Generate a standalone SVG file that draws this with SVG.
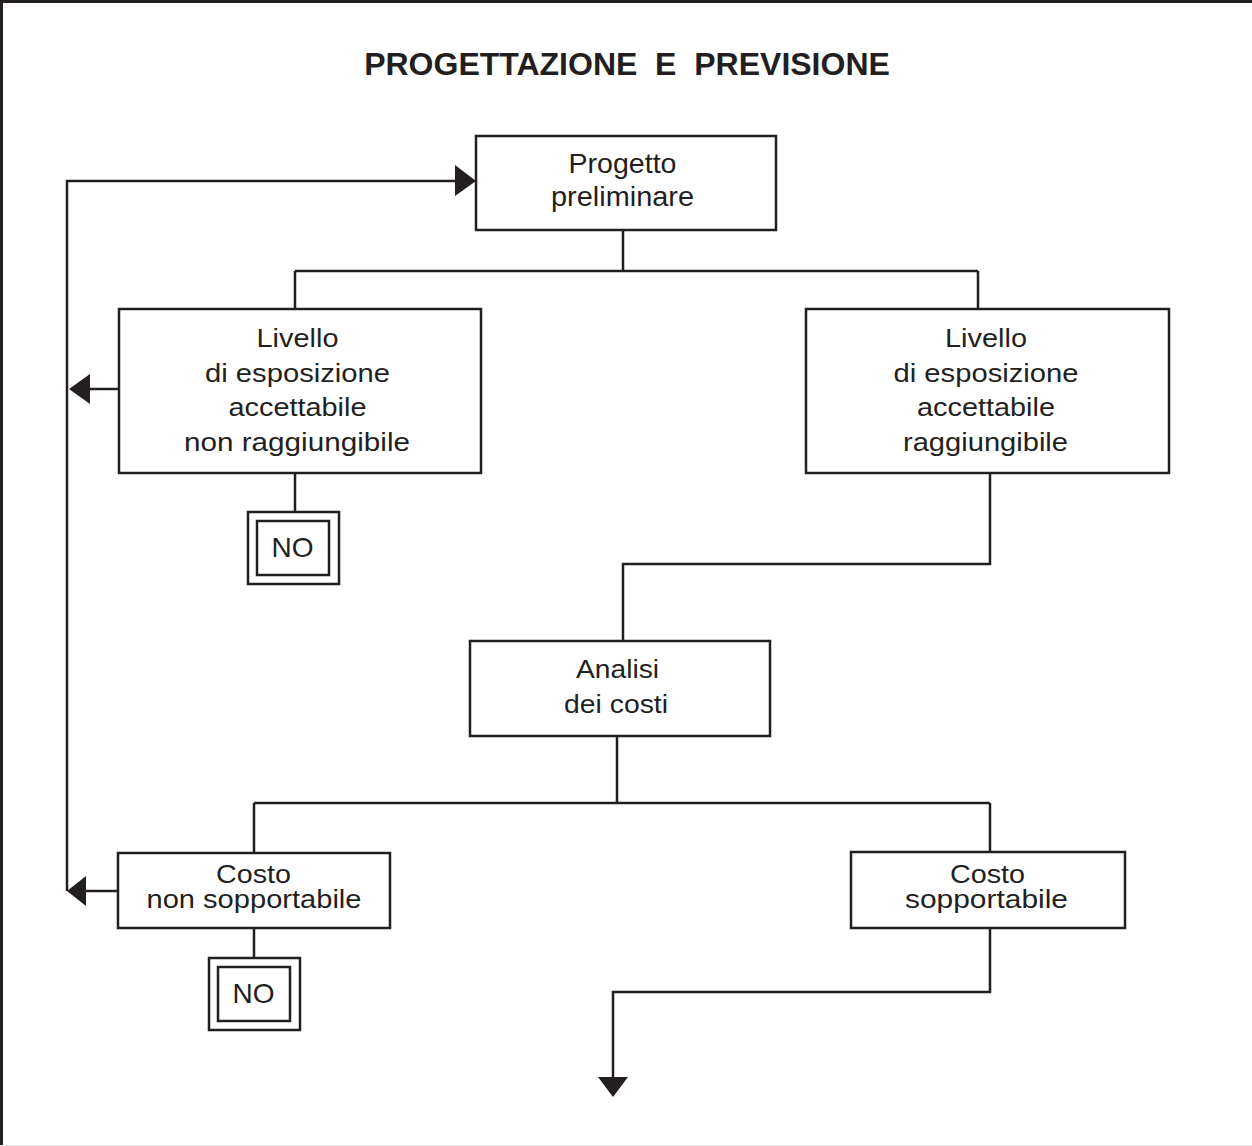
<svg xmlns="http://www.w3.org/2000/svg" width="1252" height="1146" viewBox="0 0 1252 1146">
<style>
.box{fill:#fff;stroke:#231f20;stroke-width:2.5}
.ln{fill:none;stroke:#231f20;stroke-width:2.5}
.t{font-family:"Liberation Sans",Arial,sans-serif;font-size:26px;fill:#231f20;text-anchor:middle}
.lv{font-size:25.5px}
.big{font-size:28px}
.title{font-family:"Liberation Sans",Arial,sans-serif;font-size:32px;font-weight:bold;fill:#231f20;text-anchor:middle}
.ah{fill:#231f20}
</style>
<rect width="1252" height="1146" fill="#fff"/>
<path d="M1.5 1146 V1.5 H1252" fill="none" stroke="#231f20" stroke-width="3"/>
<line x1="0" y1="1145.5" x2="1252" y2="1145.5" stroke="#e6e6e6" stroke-width="1"/>
<text class="title" x="627" y="75" xml:space="preserve">PROGETTAZIONE  E  PREVISIONE</text>
<g id="connectors">
<path class="ln" d="M623 230 V271 M295 271 H978 M295 271 V309 M978 271 V309"/>
<path class="ln" d="M295 474 V512"/>
<path class="ln" d="M990 474 V564 H623 V641"/>
<path class="ln" d="M617 736 V803 M254 803 H990 M254 803 V853 M990 803 V852"/>
<path class="ln" d="M254 929 V958"/>
<path class="ln" d="M990 928 V992 H613 V1080"/>
<path class="ln" d="M119 389 H88"/>
<path class="ln" d="M118 891 H84"/>
<path class="ln" d="M67 891 V181 H458"/>
<polygon class="ah" points="476,181 455,165 455,196"/>
<polygon class="ah" points="69,389 90,374 90,404"/>
<polygon class="ah" points="67,891 86,876 86,906"/>
<polygon class="ah" points="613,1097 598,1077 628,1077"/>
</g>
<g id="progetto">
<rect class="box" x="476" y="136" width="300" height="94"/>
<text class="t big" x="622.5" y="173" textLength="108" lengthAdjust="spacingAndGlyphs">Progetto</text>
<text class="t big" x="622.5" y="206" textLength="143" lengthAdjust="spacingAndGlyphs">preliminare</text>
</g>
<g id="livello-non">
<rect class="box" x="119" y="309" width="362" height="164"/>
<text class="t lv" x="297.5" y="346.5" textLength="82" lengthAdjust="spacingAndGlyphs">Livello</text>
<text class="t lv" x="297.5" y="381.5" textLength="185" lengthAdjust="spacingAndGlyphs">di esposizione</text>
<text class="t lv" x="297.5" y="416" textLength="138" lengthAdjust="spacingAndGlyphs">accettabile</text>
<text class="t lv" x="297" y="451" textLength="226" lengthAdjust="spacingAndGlyphs">non raggiungibile</text>
</g>
<g id="livello-si">
<rect class="box" x="806" y="309" width="363" height="164"/>
<text class="t lv" x="986" y="346.5" textLength="82" lengthAdjust="spacingAndGlyphs">Livello</text>
<text class="t lv" x="986" y="381.5" textLength="185" lengthAdjust="spacingAndGlyphs">di esposizione</text>
<text class="t lv" x="986" y="416" textLength="138" lengthAdjust="spacingAndGlyphs">accettabile</text>
<text class="t lv" x="985.5" y="451" textLength="165" lengthAdjust="spacingAndGlyphs">raggiungibile</text>
</g>
<g id="no1">
<rect class="box" x="248" y="512" width="91" height="72"/>
<rect class="box" x="257" y="521" width="72" height="54"/>
<text class="t big" x="292.5" y="556.5">NO</text>
</g>
<g id="analisi">
<rect class="box" x="470" y="641" width="300" height="95"/>
<text class="t" x="617.5" y="677.5" textLength="83" lengthAdjust="spacingAndGlyphs">Analisi</text>
<text class="t" x="616" y="713" textLength="104" lengthAdjust="spacingAndGlyphs">dei costi</text>
</g>
<g id="costo-non">
<rect class="box" x="118" y="853" width="272" height="75"/>
<text class="t" x="253.5" y="882.5" textLength="75" lengthAdjust="spacingAndGlyphs">Costo</text>
<text class="t" x="254" y="908" textLength="215" lengthAdjust="spacingAndGlyphs">non sopportabile</text>
</g>
<g id="costo-si">
<rect class="box" x="851" y="852" width="274" height="76"/>
<text class="t" x="987.5" y="882.5" textLength="75" lengthAdjust="spacingAndGlyphs">Costo</text>
<text class="t" x="986.5" y="908" textLength="163" lengthAdjust="spacingAndGlyphs">sopportabile</text>
</g>
<g id="no2">
<rect class="box" x="209" y="958" width="91" height="72"/>
<rect class="box" x="218" y="967" width="72" height="54"/>
<text class="t big" x="253.5" y="1002.5">NO</text>
</g>
</svg>
